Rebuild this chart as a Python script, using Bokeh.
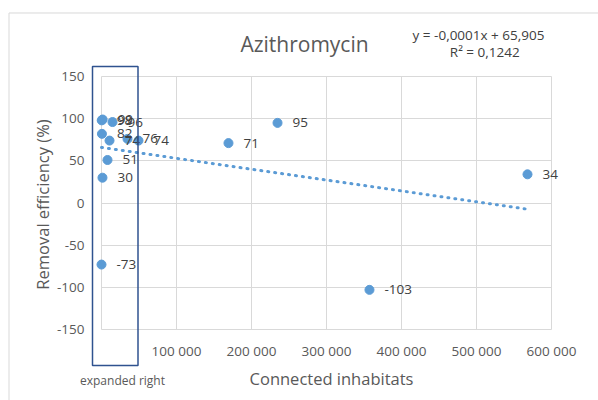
import math
from bokeh.plotting import figure
from bokeh.models import ColumnDataSource, FixedTicker, Label, BoxAnnotation, Range1d
from bokeh.embed import file_html
from bokeh.resources import INLINE
from bokeh.core.properties import value

# ---- data ----
inhabitants = [300, 1500, 14700, 600, 10700, 34700, 49300, 8000, 1300, 0,
               169300, 234700, 357300, 568000]
removal = [98, 99, 96, 82, 74, 76, 74, 51, 30, -73, 71, 95, -103, 34]
x_ticks = [0, 100000, 200000, 300000, 400000, 500000, 600000]
y_ticks = [-150, -100, -50, 0, 50, 100, 150]
trend_slope = -0.000129
trend_intercept = 65.905
title_text = "Azithromycin"
equation_text = "y = -0,0001x + 65,905"
r2_text = "R² = 0,1242"
x_label = "Connected inhabitats"
y_label = "Removal efficiency (%)"
box_note = "expanded right"

FONT = "Open Sans"
BLUE = "#5B9BD5"
GREY_TXT = "#595959"
DARK_TXT = "#404040"

# plot area spans the full canvas; the gridded value area is 0..600000 x -150..150
p = figure(width=598, height=400, output_backend="svg", toolbar_location=None,
           x_range=Range1d(-134667, 662667), y_range=Range1d(-234.19, 240.12),
           min_border=0, min_border_left=0, min_border_right=0,
           min_border_top=0, min_border_bottom=0,
           background_fill_color="white", border_fill_color="white",
           outline_line_color=None)

# axes (placed at the edges of the value area)
p.xaxis.ticker = FixedTicker(ticks=x_ticks)
p.yaxis.ticker = FixedTicker(ticks=y_ticks)
p.xaxis.fixed_location = y_ticks[0]
p.yaxis.fixed_location = x_ticks[0]
p.xaxis.bounds = (x_ticks[0], x_ticks[-1])
p.yaxis.bounds = (y_ticks[0], y_ticks[-1])
p.xaxis.major_label_overrides = {t: ("" if t == 0 else f"{t:,}".replace(",", " ")) for t in x_ticks}
p.yaxis.major_label_overrides = {t: str(t) for t in y_ticks}
for ax in (p.xaxis[0], p.yaxis[0]):
    ax.axis_line_color = None
    ax.major_tick_line_color = None
    ax.minor_tick_line_color = None
    ax.major_tick_out = 0
    ax.major_tick_in = 0
    ax.major_label_text_font = FONT
    ax.major_label_text_font_size = "13.5px"
    ax.major_label_text_color = GREY_TXT
p.yaxis.major_label_standoff = 17
p.xaxis.major_label_standoff = 12

# grid limited to the value area
for g, b, cb in ((p.xgrid[0], (x_ticks[0], x_ticks[-1]), (y_ticks[0], y_ticks[-1])),
                 (p.ygrid[0], (y_ticks[0], y_ticks[-1]), (x_ticks[0], x_ticks[-1]))):
    g.grid_line_color = "#D9D9D9"
    g.bounds = b
    if "cross_bounds" in g.properties():
        g.cross_bounds = cb

# chart-area border (left and top edges visible)
p.add_layout(BoxAnnotation(left=-123333, right=700000, top=225.3, bottom=-300,
                           fill_alpha=0, line_color="#D9D9D9", line_alpha=1,
                           line_width=1))

src = ColumnDataSource(dict(x=inhabitants, y=removal, lab=[str(v) for v in removal]))

# trendline
tx = [min(inhabitants), max(inhabitants)]
ty = [trend_intercept + trend_slope * v for v in tx]
p.line(tx, ty, line_color=BLUE, line_width=3, line_dash="1 6", line_cap="round")

# points and data labels
p.scatter("x", "y", source=src, size=9, fill_color=BLUE, line_color=BLUE)
p.text("x", "y", text="lab", source=src, x_offset=15, text_baseline="middle",
       text_font=value(FONT), text_font_size="13.5px", text_color=DARK_TXT)

# title, equation, axis titles
p.add_layout(Label(x=270667, y=189.1, text=title_text, text_align="center",
                   text_baseline="middle", text_font=FONT, text_font_size="21px",
                   text_color=GREY_TXT))
p.add_layout(Label(x=502667, y=199.8, text=equation_text, text_align="center",
                   text_baseline="middle", text_font=FONT, text_font_size="13.5px",
                   text_color=DARK_TXT))
p.add_layout(Label(x=511000, y=179.6, text=r2_text, text_align="center",
                   text_baseline="middle", text_font=FONT, text_font_size="13.5px",
                   text_color=DARK_TXT))
p.add_layout(Label(x=306667, y=-208.1, text=x_label, text_align="center",
                   text_baseline="middle", text_font=FONT, text_font_size="16.5px",
                   text_color=GREY_TXT))
p.add_layout(Label(x=-78667, y=-1.8, text=y_label, text_align="center",
                   text_baseline="middle", angle=math.pi / 2, text_font=FONT,
                   text_font_size="16.5px", text_color=GREY_TXT))

# "expanded right" box
p.add_layout(BoxAnnotation(left=-12000, right=48667, top=161.9, bottom=-192.7,
                           fill_alpha=0, line_color="#2F528F", line_alpha=1,
                           line_width=1.5))
p.add_layout(Label(x=28000, y=-210.5, text=box_note, text_align="center",
                   text_baseline="middle", text_font=FONT, text_font_size="12px",
                   text_color=GREY_TXT))

open("out.html", "w").write(file_html(p, INLINE))
